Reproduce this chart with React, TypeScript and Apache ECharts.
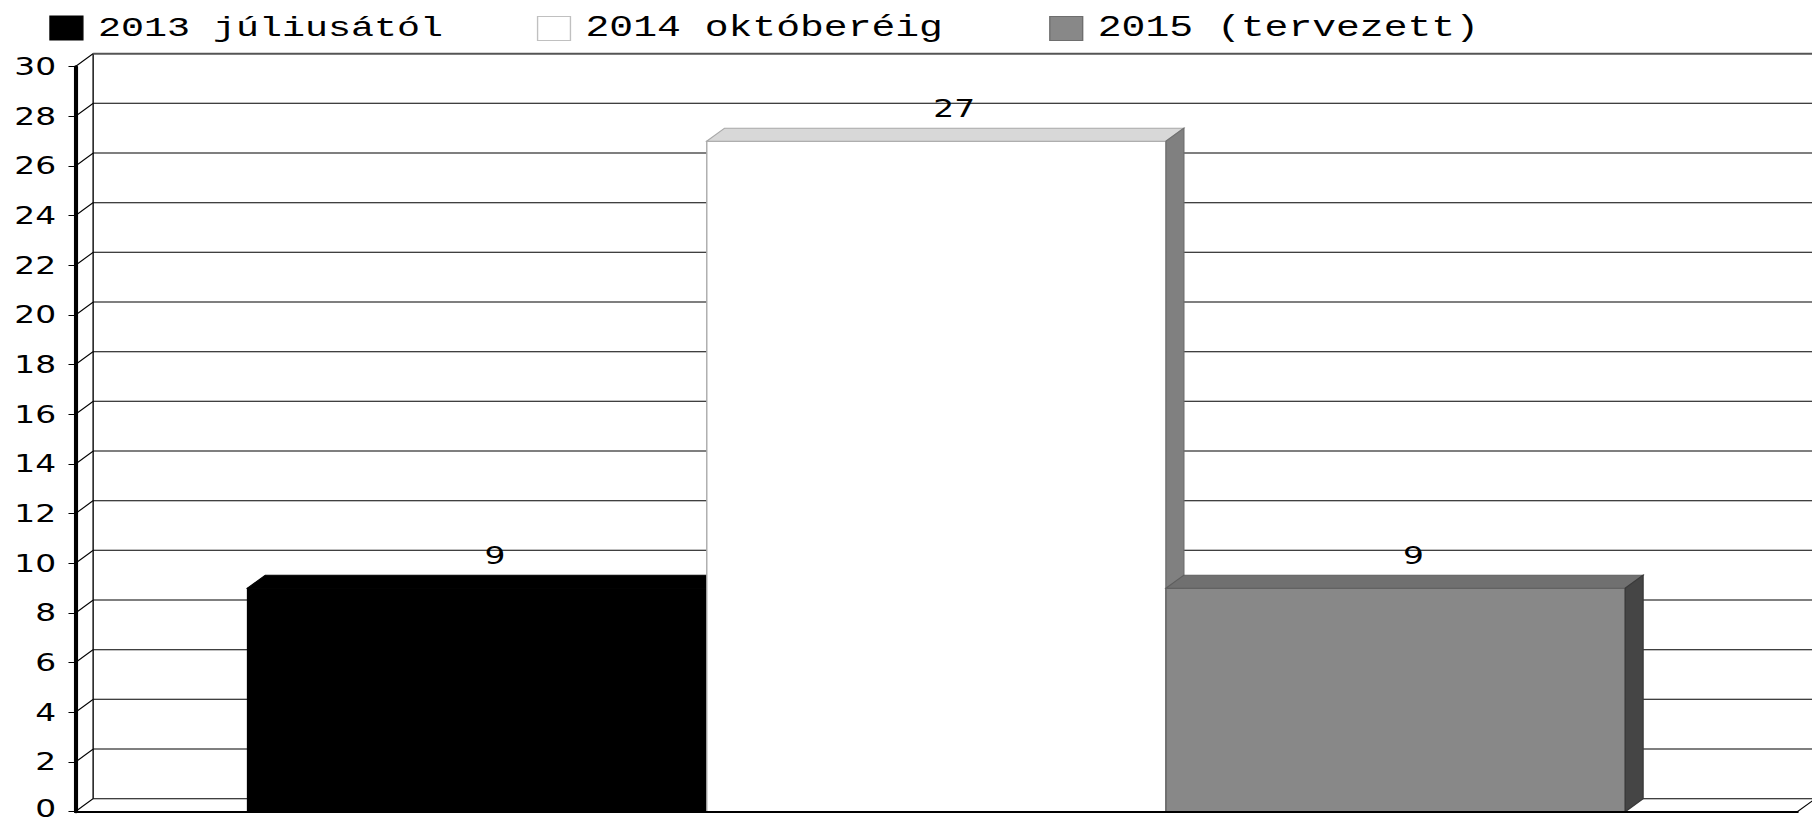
import React, { useEffect, useRef } from "react";
import * as echarts from "echarts";

// ---- data ----
const categories = [""];
const seriesNames = ["2013 júliusától", "2014 októberéig", "2015 (tervezett)"];
const seriesValues = [9, 27, 9];
const yTicks = [0, 2, 4, 6, 8, 10, 12, 14, 16, 18, 20, 22, 24, 26, 28, 30];
const yMin = 0;
const yMax = 30;
const yStep = 2;

// ---- look ----
const STRETCH = 1.37; // the reference is drawn horizontally stretched
const W = Math.round(1812 / STRETCH);
const H = 822;
const D = 13; // depth of the pseudo-3D effect
const barStyles = [
  { front: "#000000", frontStroke: "#000000", top: "#000000", topStroke: "#000000", side: "#000000", sideStroke: "#000000" },
  { front: "#ffffff", frontStroke: "#a8a8a8", top: "#d8d8d8", topStroke: "#a8a8a8", side: "#808080", sideStroke: "#707070" },
  { front: "#888888", frontStroke: "#666666", top: "#707070", topStroke: "#5e5e5e", side: "#454545", sideStroke: "#3a3a3a" },
];
const legendIcons = [
  { color: "#000000", borderColor: "#000000" },
  { color: "#ffffff", borderColor: "#c0c0c0" },
  { color: "#888888", borderColor: "#6e6e6e" },
];
const legendLefts = [36, 392, 766];
const legendFontSizes = [28, 29, 29];

function barRenderer(i: number) {
  return (params: any, api: any) => {
    const xi = api.value(0);
    const v = api.value(1);
    const base = api.coord([xi, 0]);
    const top = api.coord([xi, v]);
    const catW = api.size([1, 0])[0];
    const total = catW * 0.8;
    const bw = total / seriesValues.length;
    const x0 = base[0] - total / 2 + i * bw;
    const x1 = x0 + bw;
    const yb = base[1];
    const yt = top[1];
    const st = barStyles[i];
    return {
      type: "group",
      children: [
        {
          type: "rect",
          shape: { x: x0, y: yt, width: bw, height: yb - yt },
          style: { fill: st.front, stroke: st.frontStroke, lineWidth: 1 },
        },
        {
          type: "polygon",
          shape: { points: [[x0, yt], [x0 + D, yt - D], [x1 + D, yt - D], [x1, yt]] },
          style: { fill: st.top, stroke: st.topStroke, lineWidth: 1 },
        },
        {
          type: "polygon",
          shape: { points: [[x1, yt], [x1 + D, yt - D], [x1 + D, yb - D], [x1, yb]] },
          style: { fill: st.side, stroke: st.sideStroke, lineWidth: 1 },
        },
        {
          type: "text",
          x: (x0 + x1) / 2 + D,
          y: yt - D - 20,
          style: {
            text: String(v),
            align: "center",
            verticalAlign: "middle",
            font: '24px "DejaVu Sans"',
            fill: "#000",
          },
        },
      ],
    };
  };
}

function frameRenderer(params: any, api: any) {
  const v = api.value(1);
  const cs = params.coordSys;
  const L = cs.x;
  const R = cs.x + cs.width;
  const y = api.coord([0, v])[1];
  const isTop = v === yMax;
  const children: any[] = [
    {
      type: "line",
      shape: { x1: L + D, y1: y - D, x2: R + D, y2: y - D },
      style: { stroke: isTop ? "#555" : "#000", lineWidth: isTop ? 2 : 1 },
    },
    {
      type: "line",
      shape: { x1: L, y1: y, x2: L + D, y2: y - D },
      style: { stroke: "#000", lineWidth: 1 },
    },
  ];
  if (v === yMin) {
    const yTop = api.coord([0, yMax])[1];
    children.push({
      type: "line",
      shape: { x1: L + D, y1: y - D, x2: L + D, y2: yTop - D },
      style: { stroke: "#000", lineWidth: 1 },
    });
    children.push({
      type: "line",
      shape: { x1: R, y1: y, x2: R + D, y2: y - D },
      style: { stroke: "#000", lineWidth: 1 },
    });
  }
  return { type: "group", children };
}

export default function App() {
  const ref = useRef<HTMLDivElement>(null);
  useEffect(() => {
    if (!ref.current) return;
    const chart = echarts.init(ref.current, null, { renderer: "svg" });
    const option: any = {
      animation: false,
      backgroundColor: "#ffffff",
      legend: seriesNames.map((n, i) => ({
        left: legendLefts[i],
        top: 14,
        padding: 0,
        itemWidth: 24,
        itemHeight: 24,
        icon: "rect",
        selectedMode: false,
        data: [
          {
            name: n,
            itemStyle: { color: legendIcons[i].color, borderColor: legendIcons[i].borderColor, borderWidth: 1 },
          },
        ],
        textStyle: {
          fontFamily: '"Liberation Mono", "DejaVu Sans Mono", monospace',
          fontSize: legendFontSizes[i],
          color: "#000",
          padding: [0, 0, 0, 6],
        },
      })),
      grid: {
        left: 55,
        right: W - 1312.4,
        top: 66.7,
        bottom: 10.3,
        containLabel: false,
        outerBoundsMode: "none",
      },
      xAxis: {
        type: "category",
        data: categories,
        z: 10,
        axisLine: { show: true, lineStyle: { color: "#000", width: 2 } },
        axisTick: { show: false },
        axisLabel: { show: false },
        splitLine: { show: false },
      },
      yAxis: {
        type: "value",
        min: yMin,
        max: yMax,
        interval: yStep,
        z: 10,
        axisLine: { show: true, lineStyle: { color: "#000", width: 3 } },
        axisTick: { show: true, length: 5, lineStyle: { color: "#000", width: 1 } },
        axisLabel: {
          fontFamily: '"DejaVu Sans", sans-serif',
          fontSize: 24,
          lineHeight: 18,
          color: "#000",
          margin: 14,
          formatter: (v: number) => (v === yMin ? `{low|${v}}` : String(v)),
          rich: {
            low: {
              fontFamily: '"DejaVu Sans", sans-serif',
              fontSize: 24,
              lineHeight: 18,
              color: "#000",
              padding: [0, 0, 7, 0],
            },
          },
        },
        splitLine: { show: false },
      },
      series: [
        {
          type: "custom",
          name: "__frame",
          z: 1,
          clip: false,
          silent: true,
          renderItem: frameRenderer,
          data: yTicks.map((v) => [0, v]),
        },
        ...seriesNames.map((n, i) => ({
          type: "custom",
          name: n,
          z: 2 + i,
          clip: false,
          itemStyle: { color: legendIcons[i].color, borderColor: legendIcons[i].borderColor },
          renderItem: barRenderer(i),
          data: [[0, seriesValues[i]]],
        })),
      ],
    };
    chart.setOption(option);
    return () => chart.dispose();
  }, []);
  return (
    <div
      ref={ref}
      style={{
        position: "fixed",
        left: 0,
        top: 0,
        width: W,
        height: H,
        transform: `scaleX(${1812 / W})`,
        transformOrigin: "0 0",
        background: "#fff",
      }}
    />
  );
}
